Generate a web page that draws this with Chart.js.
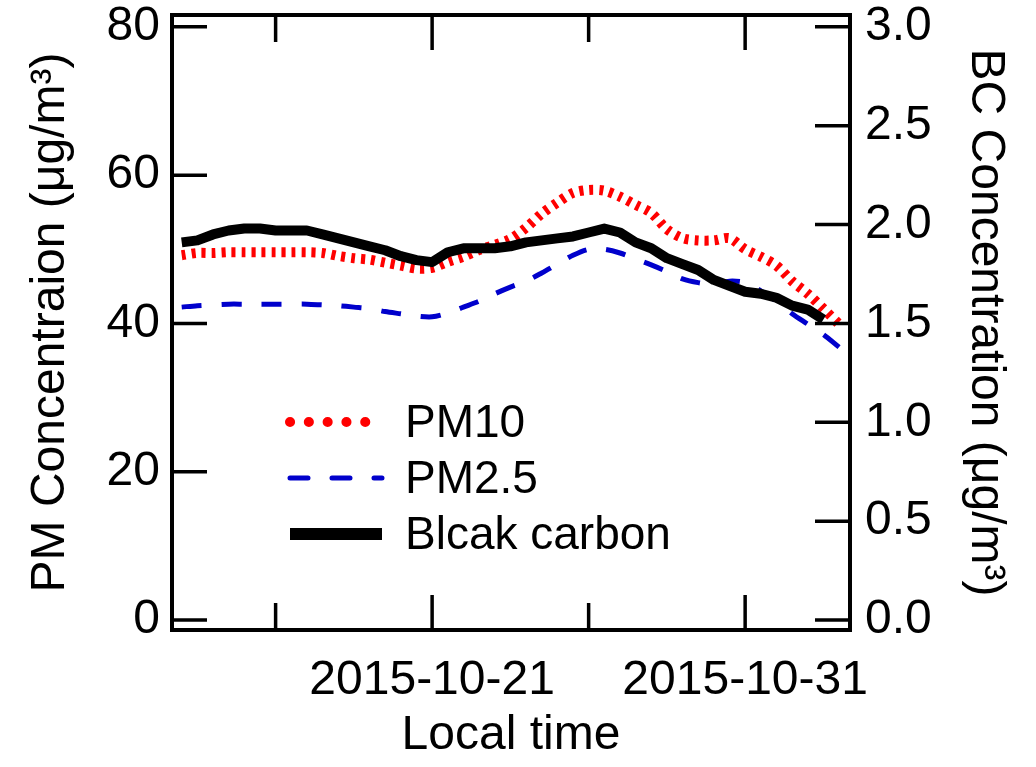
<!DOCTYPE html>
<html>
<head>
<meta charset="utf-8">
<script src="https://cdn.jsdelivr.net/npm/chart.js@4.4.1/dist/chart.umd.min.js"></script>
<style>
html,body{margin:0;padding:0;background:#fff;}
#wrap{width:1036px;height:767px;position:relative;}
</style>
</head>
<body>
<div id="wrap"><canvas id="c" width="1036" height="767"></canvas></div>
<script>
// Time: days since 2015-10-01 00:00 (local time)
const dayOffsets = [12.0,12.5,13.0,13.5,14.0,14.5,15.0,15.5,16.0,16.5,17.0,17.5,18.0,18.5,19.0,19.5,20.0,20.5,21.0,21.5,22.0,22.5,23.0,23.5,24.0,24.5,25.0,25.5,26.0,26.5,27.0,27.5,28.0,28.5,29.0,29.5,30.0,30.5,31.0,31.5,32.0,32.5,33.0];

// PM10 (µg/m3, left axis)
const pm10 = [49.2,49.5,49.5,49.6,49.6,49.6,49.6,49.6,49.6,49.5,49.1,48.8,48.6,48.2,47.8,47.4,47.5,48.3,49.0,49.9,50.6,51.4,52.9,54.8,56.3,57.6,58.0,57.9,57.1,56.0,54.9,52.7,51.5,51.2,51.2,51.5,50.0,49.0,47.8,45.7,44.0,42.0,39.9];

// PM2.5 (µg/m3, left axis)
const pm25 = [42.2,42.4,42.5,42.6,42.6,42.6,42.6,42.6,42.6,42.5,42.4,42.2,42.0,41.6,41.3,41.0,40.9,41.4,42.2,43.0,44.0,44.9,45.7,46.8,48.0,49.2,50.0,50.0,49.5,48.7,47.9,47.0,46.0,45.5,45.3,45.7,45.5,44.4,43.0,41.3,39.9,38.5,36.8];

// Black carbon (µg/m3, right axis)
const blackCarbon = [1.91,1.92,1.95,1.97,1.98,1.98,1.97,1.97,1.97,1.95,1.93,1.91,1.89,1.87,1.84,1.82,1.81,1.86,1.88,1.88,1.88,1.89,1.91,1.92,1.93,1.94,1.96,1.98,1.96,1.91,1.88,1.83,1.80,1.77,1.72,1.69,1.66,1.65,1.63,1.59,1.57,1.52,null];

const seriesNames = ['PM10', 'PM2.5', 'Blcak carbon'];
const leftTicks = [0, 20, 40, 60, 80];
const rightTicks = [0.0, 0.5, 1.0, 1.5, 2.0, 2.5, 3.0];
const xAxisTitle = 'Local time';
const leftAxisTitle = 'PM Concentraion (μg/m³)';
const rightAxisTitle = 'BC Concentration (μg/m³)';

const FONT = "'Liberation Sans', Arial, Helvetica, sans-serif";

function toPoints(vals) {
  return vals.map((v, i) => ({x: dayOffsets[i], y: v}));
}
function fmtDate(v) {
  const d = new Date(Date.UTC(2015, 9, 1 + Math.round(v)));
  return d.toISOString().slice(0, 10);
}

const framePlugin = {
  id: 'frameTicks',
  afterDraw(chart, args, o) {
    const {ctx, chartArea: a, scales} = chart;
    ctx.save();
    ctx.strokeStyle = '#000';
    ctx.lineCap = 'butt';
    ctx.lineWidth = o.tickWidth;
    const seg = (x1, y1, x2, y2) => { ctx.beginPath(); ctx.moveTo(x1, y1); ctx.lineTo(x2, y2); ctx.stroke(); };
    scales.x.ticks.forEach(t => {
      const px = scales.x.getPixelForValue(t.value);
      const len = (Math.round(t.value) % 10 === 0) ? o.majorLen : o.minorLen;
      seg(px, a.bottom, px, a.bottom - len);
      seg(px, a.top, px, a.top + len);
    });
    scales.y.ticks.forEach(t => {
      const py = scales.y.getPixelForValue(t.value);
      seg(a.left, py, a.left + o.yLen, py);
    });
    scales.y2.ticks.forEach(t => {
      const py = scales.y2.getPixelForValue(t.value);
      seg(a.right, py, a.right - o.yLen, py);
    });
    ctx.lineWidth = o.frameWidth;
    ctx.strokeRect(a.left, a.top, a.right - a.left, a.bottom - a.top);
    ctx.restore();
  }
};

const legendPlugin = {
  id: 'insideLegend',
  afterDraw(chart, args, o) {
    const {ctx, chartArea: a} = chart;
    ctx.save();
    const x0 = a.left + o.dx, x1 = x0 + o.sampleLen, tx = x1 + o.gap;
    o.items.forEach((it, i) => {
      const ds = chart.data.datasets[it.index];
      const y = a.top + o.dy + i * o.rowH;
      ctx.beginPath();
      ctx.strokeStyle = ds.borderColor;
      ctx.lineWidth = it.width;
      ctx.lineCap = it.cap;
      ctx.setLineDash(it.dash);
      ctx.moveTo(x0, y); ctx.lineTo(x1, y);
      ctx.stroke();
      ctx.setLineDash([]);
      ctx.fillStyle = '#000';
      ctx.font = o.fontSize + 'px ' + FONT;
      ctx.textBaseline = 'middle';
      ctx.textAlign = 'left';
      ctx.fillText(ds.label, tx, y + 2);
    });
    ctx.restore();
  }
};

const ctx = document.getElementById('c').getContext('2d');
new Chart(ctx, {
  type: 'line',
  data: {
    datasets: [
      {
        label: seriesNames[0], data: toPoints(pm10), yAxisID: 'y',
        borderColor: '#ff0000', borderWidth: 10, borderDash: [4, 6], borderCapStyle: 'butt',
        pointRadius: 0, tension: 0.3, fill: false, order: 1
      },
      {
        label: seriesNames[1], data: toPoints(pm25), yAxisID: 'y',
        borderColor: '#0000cc', borderWidth: 5, borderDash: [20, 20], borderCapStyle: 'butt',
        pointRadius: 0, tension: 0.3, fill: false, order: 2
      },
      {
        label: seriesNames[2], data: toPoints(blackCarbon), yAxisID: 'y2',
        borderColor: '#000000', borderWidth: 10, borderCapStyle: 'butt', borderJoinStyle: 'round',
        pointRadius: 0, tension: 0, fill: false, spanGaps: false, order: 0
      }
    ]
  },
  options: {
    responsive: false,
    devicePixelRatio: 1,
    animation: false,
    layout: { padding: { top: 15, left: 0, right: 0, bottom: 0 } },
    plugins: {
      legend: { display: false },
      tooltip: { enabled: false },
      frameTicks: { tickWidth: 3.5, majorLen: 35, minorLen: 27, yLen: 35, frameWidth: 4 },
      insideLegend: {
        dx: 118, dy: 407, rowH: 56, sampleLen: 92, gap: 23, fontSize: 46,
        items: [
          { index: 0, width: 10, cap: 'round', dash: [0.1, 18.7] },
          { index: 1, width: 5, cap: 'round', dash: [18, 24] },
          { index: 2, width: 12, cap: 'butt', dash: [] }
        ]
      }
    },
    scales: {
      x: {
        type: 'linear', position: 'bottom',
        min: 11.69, max: 33.35,
        grid: { display: false, drawTicks: false },
        border: { display: false },
        ticks: {
          stepSize: 5, includeBounds: false, autoSkip: false, maxRotation: 0,
          color: '#000', padding: 22,
          font: { family: FONT, size: 48 },
          callback: (v) => (Math.round(v) % 10 === 0 ? fmtDate(v) : '')
        },
        title: {
          display: true, text: xAxisTitle, color: '#000',
          font: { family: FONT, size: 48 }, padding: { top: 0, bottom: 2 }
        },
        afterFit: (s) => { s.height = 137; s.paddingLeft = 0; s.paddingRight = 0; }
      },
      y: {
        type: 'linear', position: 'left',
        min: -1.35, max: 81.6,
        grid: { display: false, drawTicks: false },
        border: { display: false },
        ticks: {
          stepSize: 20, includeBounds: false, color: '#000', padding: 12,
          font: { family: FONT, size: 48 },
          callback: (v) => (leftTicks.includes(v) ? String(v) : '')
        },
        title: {
          display: true, text: leftAxisTitle, color: '#000',
          font: { family: FONT, size: 48 }, padding: { top: 22, bottom: 0 }
        },
        afterFit: (s) => { s.width = 172; s.paddingTop = 0; s.paddingBottom = 0; }
      },
      y2: {
        type: 'linear', position: 'right',
        min: -0.0506, max: 3.06,
        grid: { display: false, drawTicks: false },
        border: { display: false },
        ticks: {
          stepSize: 0.5, includeBounds: false, color: '#000', padding: 15,
          font: { family: FONT, size: 48 },
          callback: (v) => (rightTicks.some(r => Math.abs(r - v) < 1e-6) ? v.toFixed(1) : '')
        },
        title: {
          display: true, text: rightAxisTitle, color: '#000',
          font: { family: FONT, size: 48 }, padding: { top: 22, bottom: 0 }
        },
        afterFit: (s) => { s.width = 186; s.paddingTop = 0; s.paddingBottom = 0; }
      }
    }
  },
  plugins: [framePlugin, legendPlugin]
});
</script>
</body>
</html>
